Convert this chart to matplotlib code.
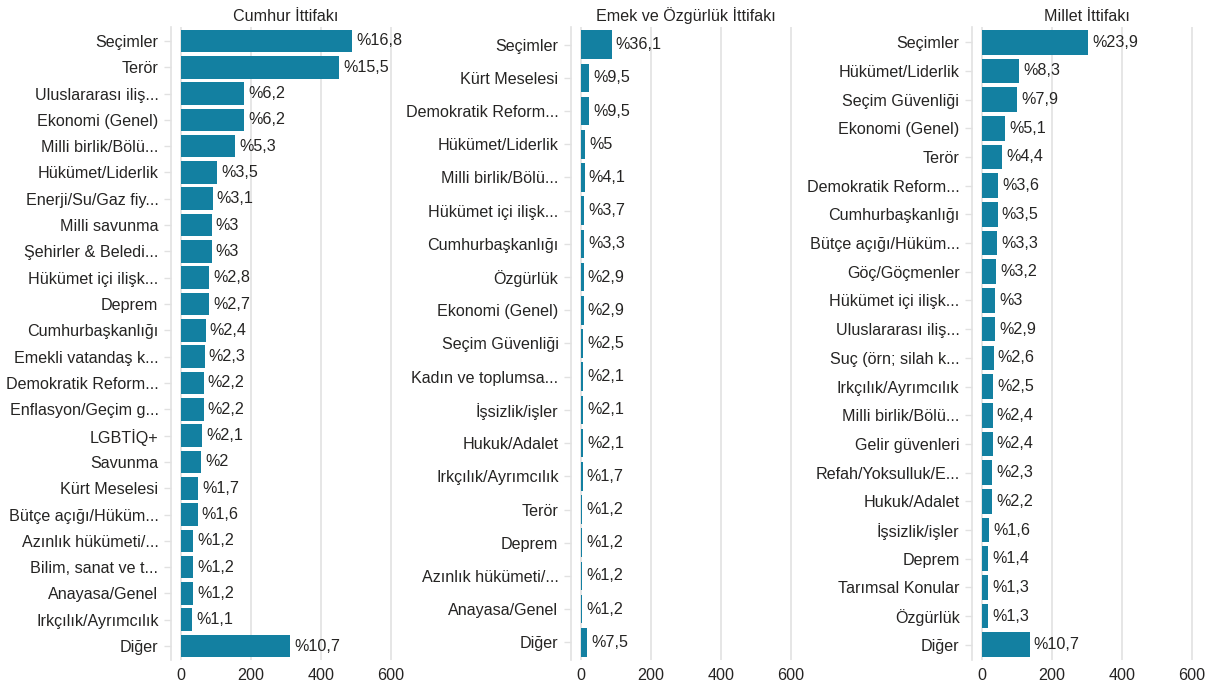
import matplotlib
matplotlib.use("Agg")
import matplotlib.pyplot as plt

# Cumhur İttifakı
cumhur_labels = ["Seçimler", "Terör", "Uluslararası iliş...", "Ekonomi (Genel)", "Milli birlik/Bölü...",
                 "Hükümet/Liderlik", "Enerji/Su/Gaz fiy...", "Milli savunma", "Şehirler & Beledi...",
                 "Hükümet içi ilişk...", "Deprem", "Cumhurbaşkanlığı", "Emekli vatandaş k...",
                 "Demokratik Reform...", "Enflasyon/Geçim g...", "LGBTİQ+", "Savunma", "Kürt Meselesi",
                 "Bütçe açığı/Hüküm...", "Azınlık hükümeti/...", "Bilim, sanat ve t...", "Anayasa/Genel",
                 "Irkçılık/Ayrımcılık", "Diğer"]
cumhur_counts = [489, 451, 180, 180, 154, 102, 90, 87, 87, 81, 79, 70, 67, 64, 64, 61, 58, 49, 47,
                 35, 35, 35, 32, 311]
cumhur_pct = ["16,8", "15,5", "6,2", "6,2", "5,3", "3,5", "3,1", "3", "3", "2,8", "2,7", "2,4", "2,3",
              "2,2", "2,2", "2,1", "2", "1,7", "1,6", "1,2", "1,2", "1,2", "1,1", "10,7"]

# Emek ve Özgürlük İttifakı
emek_labels = ["Seçimler", "Kürt Meselesi", "Demokratik Reform...", "Hükümet/Liderlik", "Milli birlik/Bölü...",
               "Hükümet içi ilişk...", "Cumhurbaşkanlığı", "Özgürlük", "Ekonomi (Genel)", "Seçim Güvenliği",
               "Kadın ve toplumsa...", "İşsizlik/işler", "Hukuk/Adalet", "Irkçılık/Ayrımcılık", "Terör",
               "Deprem", "Azınlık hükümeti/...", "Anayasa/Genel", "Diğer"]
emek_counts = [87, 23, 23, 12, 10, 9, 8, 7, 7, 6, 5, 5, 5, 4, 3, 3, 3, 3, 18]
emek_pct = ["36,1", "9,5", "9,5", "5", "4,1", "3,7", "3,3", "2,9", "2,9", "2,5", "2,1", "2,1", "2,1",
            "1,7", "1,2", "1,2", "1,2", "1,2", "7,5"]

# Millet İttifakı
millet_labels = ["Seçimler", "Hükümet/Liderlik", "Seçim Güvenliği", "Ekonomi (Genel)", "Terör",
                 "Demokratik Reform...", "Cumhurbaşkanlığı", "Bütçe açığı/Hüküm...", "Göç/Göçmenler",
                 "Hükümet içi ilişk...", "Uluslararası iliş...", "Suç (örn; silah k...", "Irkçılık/Ayrımcılık",
                 "Milli birlik/Bölü...", "Gelir güvenleri", "Refah/Yoksulluk/E...", "Hukuk/Adalet",
                 "İşsizlik/işler", "Deprem", "Tarımsal Konular", "Özgürlük", "Diğer"]
millet_counts = [303, 105, 100, 65, 56, 46, 44, 42, 41, 38, 37, 33, 32, 30, 30, 29, 28, 20, 18, 16, 16, 136]
millet_pct = ["23,9", "8,3", "7,9", "5,1", "4,4", "3,6", "3,5", "3,3", "3,2", "3", "2,9", "2,6", "2,5",
              "2,4", "2,4", "2,3", "2,2", "1,6", "1,4", "1,3", "1,3", "10,7"]

titles = ["Cumhur İttifakı", "Emek ve Özgürlük İttifakı", "Millet İttifakı"]
panels = [(cumhur_labels, cumhur_counts, cumhur_pct),
          (emek_labels, emek_counts, emek_pct),
          (millet_labels, millet_counts, millet_pct)]

BAR = "#1380A1"
TXT = "#252423"
GRID = "#E1E1E1"
FS = 11.6

plt.rcParams["font.family"] = ["Liberation Sans", "DejaVu Sans"]

fig = plt.figure(figsize=(12.15, 6.9), dpi=100)
lefts = [171 / 1215, 571 / 1215, 972 / 1215]
w = 229 / 1215
bottom = 1 - 660 / 690
h = (660 - 27) / 690

for left, title, (labels, counts, pct) in zip(lefts, titles, panels):
    ax = fig.add_axes([left, bottom, w, h])
    n = len(labels)
    y = list(range(n))
    ax.barh(y, counts, height=0.86, color=BAR, linewidth=0, zorder=3)
    for yi, c, p in zip(y, counts, pct):
        ax.annotate("%" + p, (c, yi), xytext=(3, 0), textcoords="offset points",
                    va="center", ha="left", fontsize=FS, color=TXT, zorder=4)
    ax.set_yticks(y)
    ax.set_yticklabels(labels, fontsize=FS, color=TXT)
    ax.set_ylim(n - 0.47, -0.53)
    ax.set_xlim(-29, 626)
    ax.set_xticks([0, 200, 400, 600])
    ax.tick_params(axis="x", length=0, labelsize=FS, labelcolor=TXT, pad=6)
    ax.tick_params(axis="y", length=5, color=GRID, width=1, pad=4)
    ax.grid(axis="x", color=GRID, linewidth=1.2, zorder=0)
    for s in ["top", "right", "bottom"]:
        ax.spines[s].set_visible(False)
    ax.spines["left"].set_color(GRID)
    ax.spines["left"].set_linewidth(1.2)
    ax.set_title(title, fontsize=FS, color=TXT, pad=4)

fig.savefig("out.png", dpi=100)
